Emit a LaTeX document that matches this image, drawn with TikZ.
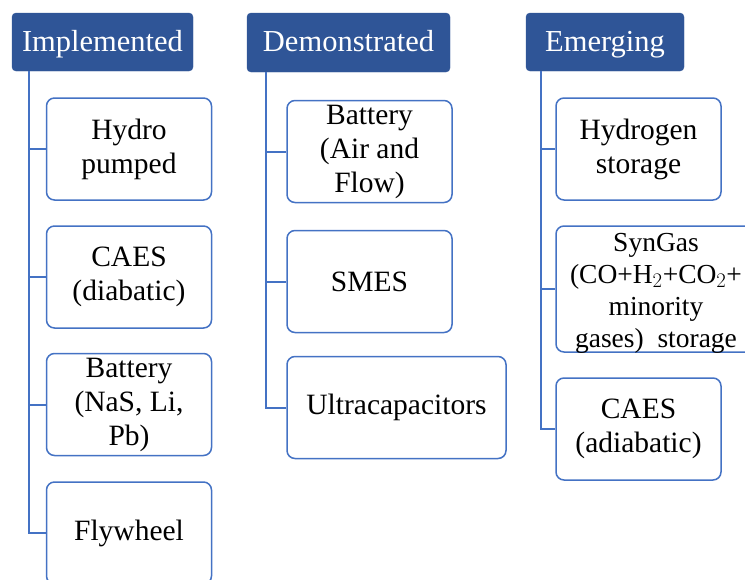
\documentclass[tikz,border=0pt]{standalone}
\usepackage{fontspec}
\setmainfont{Liberation Serif}
\definecolor{hdrblue}{RGB}{47,85,151}
\definecolor{linkblue}{RGB}{68,114,196}
\begin{document}
\begin{tikzpicture}[x=1pt,y=-1pt,
  hdr/.style={draw=hdrblue, fill=hdrblue, text=white, rounded corners=4pt,
    inner sep=0pt, text height=22pt, text depth=4pt,
    font=\fontsize{30.5}{33}\selectfont},
  item/.style={draw=linkblue, line width=1.5pt, rounded corners=8pt, fill=white,
    align=center, inner sep=0pt, minimum width=165pt, minimum height=102pt,
    font=\fontsize{29.5}{34}\selectfont},
  itemtext/.style={align=center, inner sep=0pt, font=\fontsize{27.5}{32}\selectfont},
  link/.style={draw=linkblue, line width=2pt}]
\clip (0,0) rectangle (745,579);

% column headers
\node[hdr, minimum width=181pt, minimum height=58pt] (h1) at (102.5,42) {Implemented};
\node[hdr, minimum width=203pt, minimum height=59pt] (h2) at (348.5,42.5) {Demonstrated};
\node[hdr, minimum width=158pt, minimum height=58pt] (h3) at (605,42) {Emerging};

% trunk start points under each header
\coordinate (s1) at ([xshift=17pt]h1.south west);
\coordinate (s2) at ([xshift=19pt]h2.south west);
\coordinate (s3) at ([xshift=15pt]h3.south west);

% implemented technologies
\node[item] (a1) at (129,149) {Hydro\\pumped};
\node[item] (a2) at (129,277) {CAES\\(diabatic)};
\node[item] (a3) at (129,404.5) {Battery\\(NaS, Li,\\Pb)};
\node[item] (a4) at (129,533) {Flywheel};

% demonstrated technologies
\node[item] (b1) at (369.5,151.5) {Battery\\(Air and\\Flow)};
\node[item] (b2) at (369.5,281.5) {SMES};
\node[item, minimum width=219pt] (b3) at (396.5,407.5) {Ultracapacitors};

% emerging technologies
\node[item] (c1) at (638.5,149) {Hydrogen\\storage};
\node[item, minimum width=202pt, minimum height=126pt] (c2) at (657,289) {};
\node[itemtext] (c2t) at (656,293) {SynGas\\(CO+H$_2$+CO$_2$+\\minority\\gases)\ \ storage};
\node[item] (c3) at (638.5,429) {CAES\\(adiabatic)};

% tree connectors
\foreach \n in {a1,a2,a3,a4} \draw[link] (s1) |- (\n.west);
\foreach \n in {b1,b2,b3} \draw[link] (s2) |- (\n.west);
\foreach \n in {c1,c2,c3} \draw[link] (s3) |- (\n.west);
\end{tikzpicture}
\end{document}
